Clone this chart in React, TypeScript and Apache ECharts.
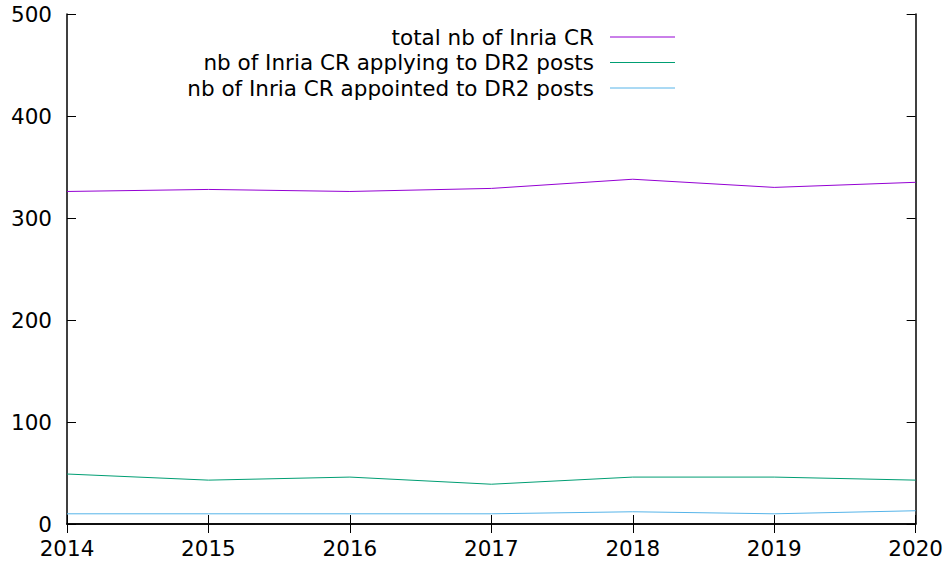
import React, { useEffect, useRef } from "react";
import * as echarts from "echarts";

const years = [2014, 2015, 2016, 2017, 2018, 2019, 2020];
const totalCR = [326, 328, 326, 329, 338, 330, 335];
const applyingCR = [49, 43, 46, 39, 46, 46, 43];
const appointedCR = [10, 10, 10, 10, 12, 10, 13];
const seriesNames = [
  "total nb of Inria CR",
  "nb of Inria CR applying to DR2 posts",
  "nb of Inria CR appointed to DR2 posts",
];
const seriesColors = ["#9400d3", "#009e73", "#56b4e9"];
const seriesValues = [totalCR, applyingCR, appointedCR];

const FONT = "DejaVu Sans";
const FS = 21.5;

export default function App() {
  const ref = useRef<HTMLDivElement>(null);
  useEffect(() => {
    if (!ref.current) return;
    const chart = echarts.init(ref.current, null, { renderer: "svg" });
    const axisLine = { show: true, lineStyle: { color: "#000", width: 1.5 } };
    const tick = { show: true, inside: true, length: 9, lineStyle: { color: "#000", width: 1 } };
    const legendGraphics: any[] = [];
    seriesNames.forEach((name, i) => {
      const y = 37 + i * 25.5;
      legendGraphics.push({
        type: "text",
        x: 594,
        y,
        style: {
          text: name,
          fill: "#000",
          font: `${FS}px '${FONT}'`,
          textAlign: "right",
          textVerticalAlign: "middle",
        },
      });
      legendGraphics.push({
        type: "line",
        shape: { x1: 610, y1: y, x2: 675, y2: y },
        style: { stroke: seriesColors[i], lineWidth: 1 },
      });
    });
    chart.setOption({
      animation: false,
      backgroundColor: "#fff",
      textStyle: { fontFamily: FONT },
      grid: { left: 67, top: 14, right: 30, bottom: 39, containLabel: false },
      xAxis: [
        {
          type: "value",
          min: 2014,
          max: 2020,
          interval: 1,
          position: "bottom",
          axisLine,
          axisTick: tick,
          splitLine: { show: false },
          axisLabel: { color: "#000", fontSize: FS, fontFamily: FONT, margin: 13, formatter: (v: number) => String(v) },
        },
        {
          type: "value",
          min: 2014,
          max: 2020,
          interval: 1,
          position: "top",
          axisLine,
          axisTick: tick,
          splitLine: { show: false },
          axisLabel: { show: false },
        },
      ],
      yAxis: [
        {
          type: "value",
          min: 0,
          max: 500,
          interval: 100,
          position: "left",
          axisLine,
          axisTick: tick,
          splitLine: { show: false },
          axisLabel: { color: "#000", fontSize: FS, fontFamily: FONT, margin: 15 },
        },
        {
          type: "value",
          min: 0,
          max: 500,
          interval: 100,
          position: "right",
          axisLine,
          axisTick: tick,
          splitLine: { show: false },
          axisLabel: { show: false },
        },
      ],
      series: seriesNames.map((name, i) => ({
        name,
        type: "line",
        data: years.map((yr, j) => [yr, seriesValues[i][j]]),
        showSymbol: false,
        symbol: "none",
        lineStyle: { color: seriesColors[i], width: 1 },
        itemStyle: { color: seriesColors[i] },
        xAxisIndex: 0,
        yAxisIndex: 0,
      })),
      graphic: legendGraphics,
    });
    return () => chart.dispose();
  }, []);
  return (
    <div
      ref={ref}
      style={{ position: "absolute", left: 0, top: 0, width: 946, height: 563 }}
    />
  );
}
